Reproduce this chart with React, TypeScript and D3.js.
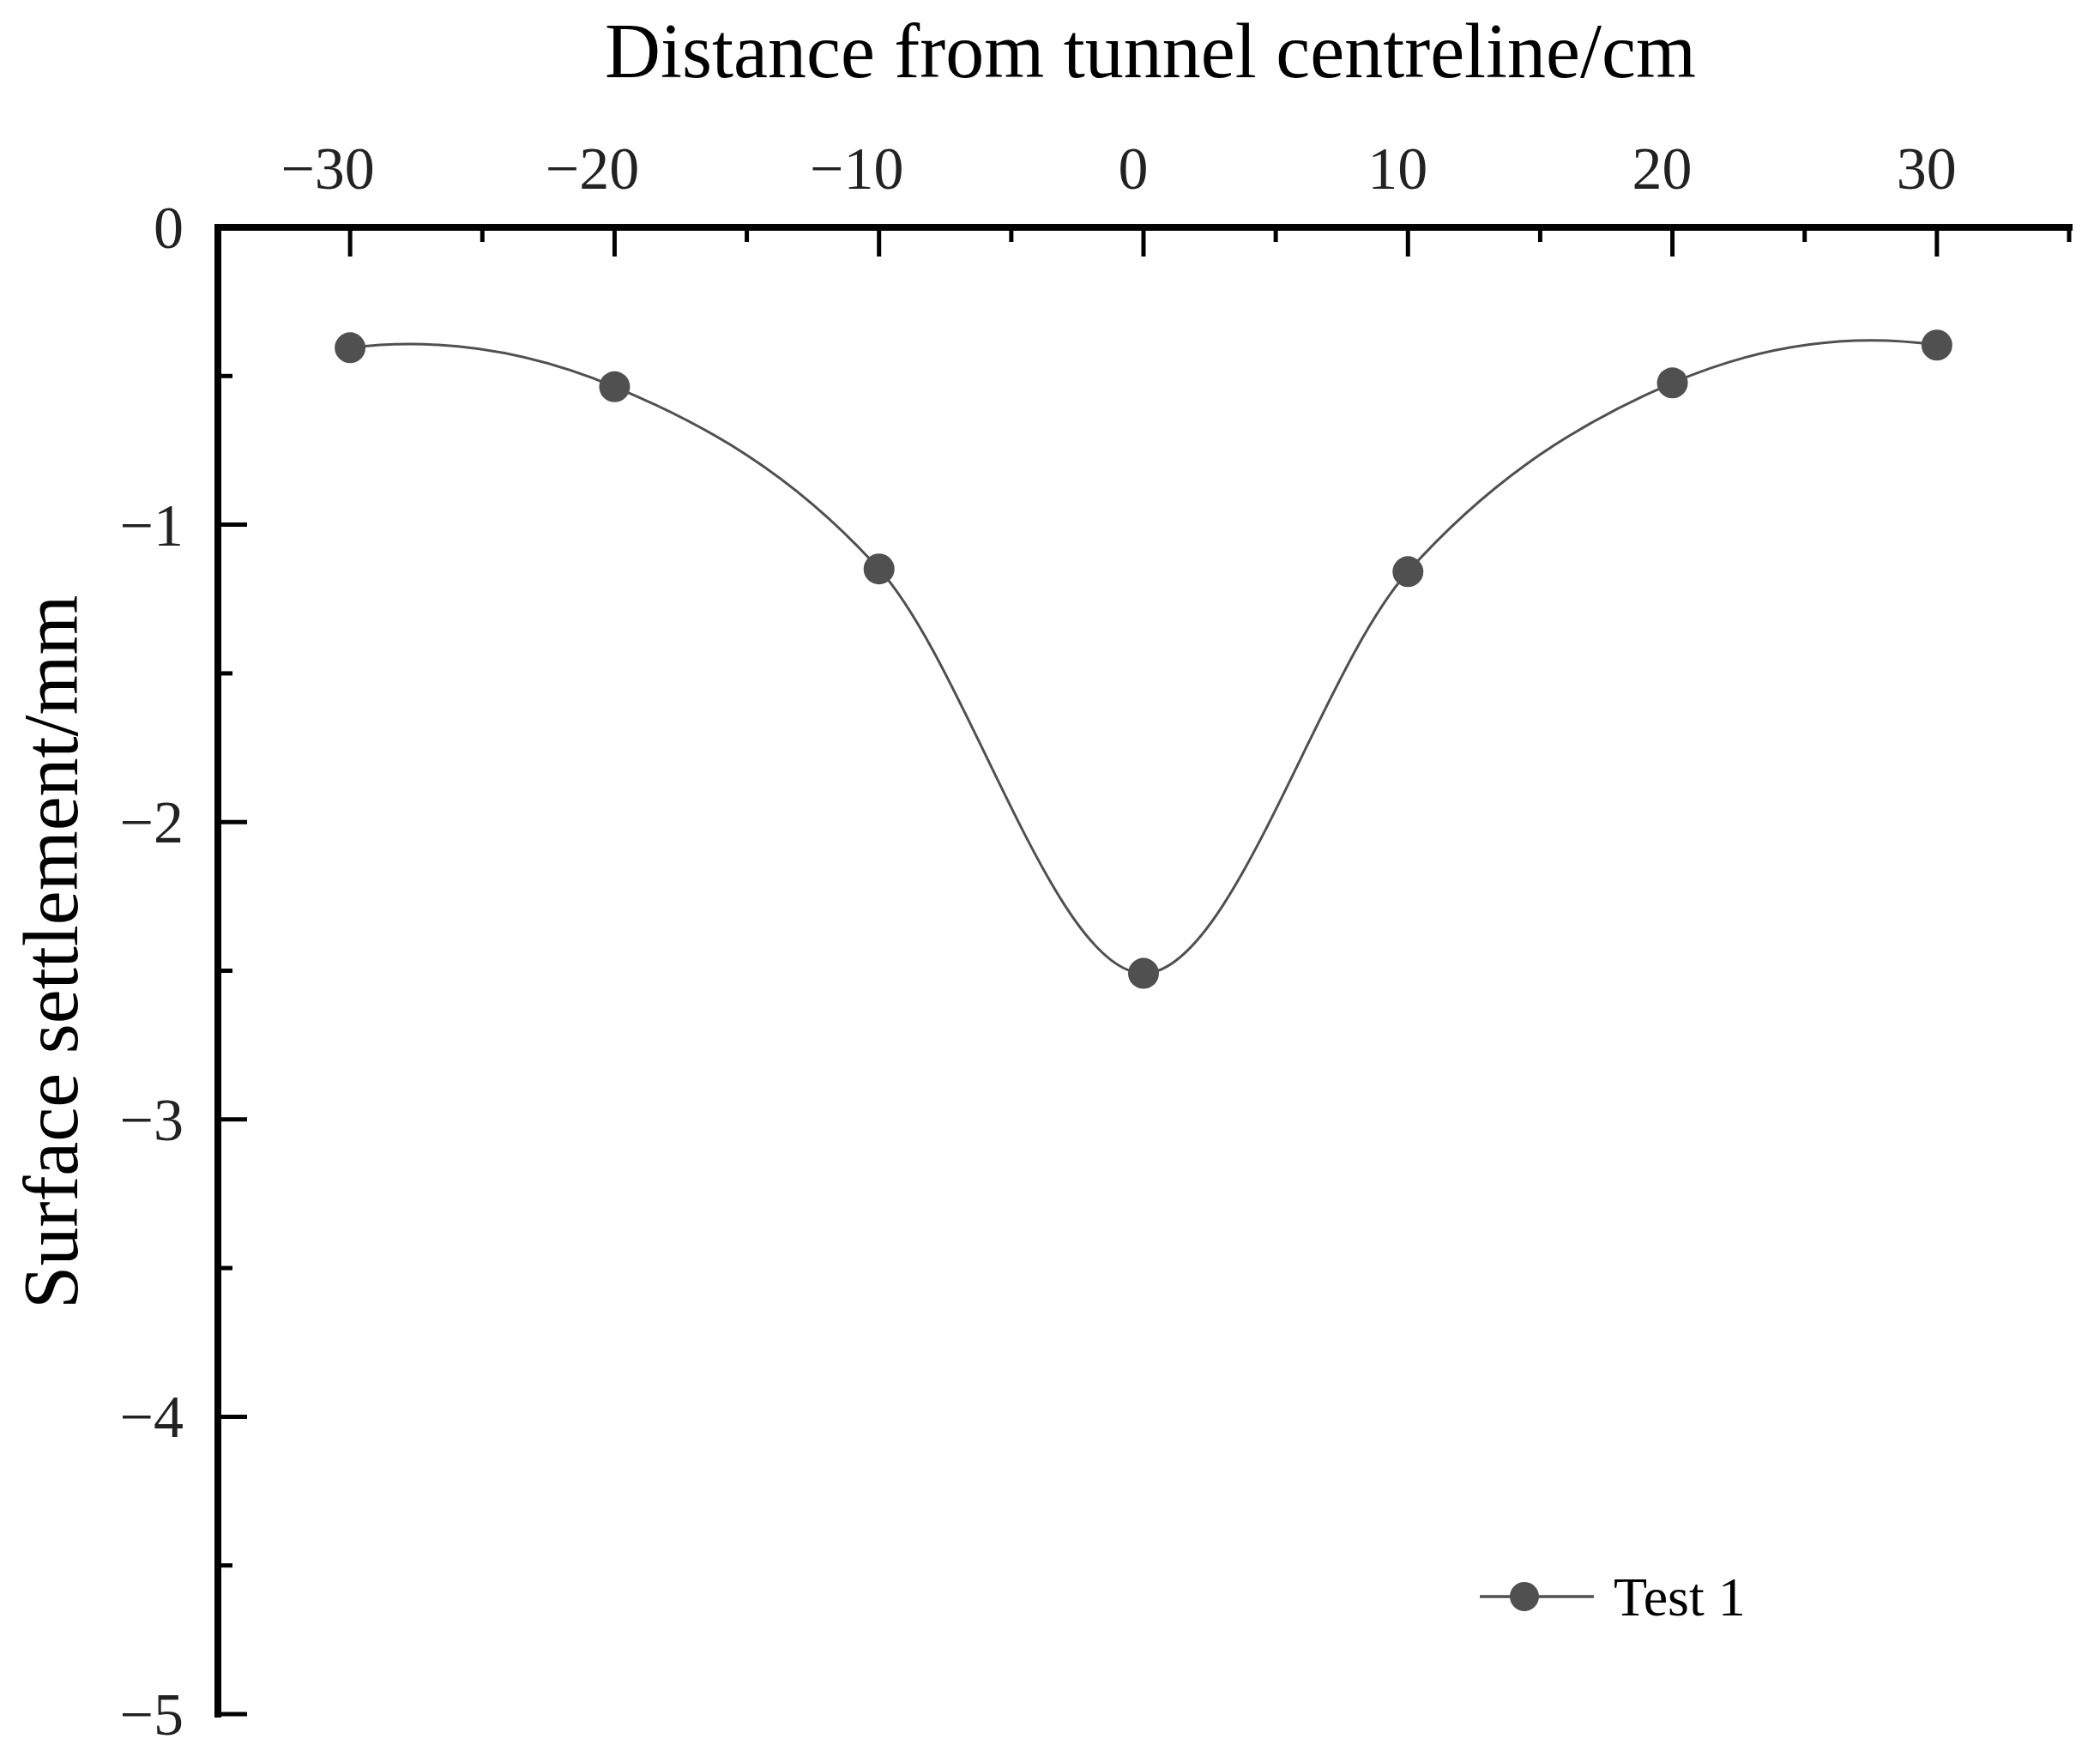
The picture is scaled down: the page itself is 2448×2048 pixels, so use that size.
import React from "react";
import * as d3 from "d3";

const distances = [-30, -20, -10, 0, 10, 20, 30];
const settlement = [-0.405, -0.536, -1.149, -2.509, -1.158, -0.523, -0.396];
const xTicks = [-30, -20, -10, 0, 10, 20, 30];
const xMinorTicks = [-25, -15, -5, 5, 15, 25, 35];
const yTicks = [0, -1, -2, -3, -4, -5];
const yMinorTicks = [-0.5, -1.5, -2.5, -3.5, -4.5];
const seriesName = "Test 1";
const xTitle = "Distance from tunnel centreline/cm";
const yTitle = "Surface settlement/mm";

const W = 2448;
const H = 2048;
const left = 254;
const right = 2412;
const top = 265;
const bottom = 1998;
const font = "'Liberation Serif', 'Times New Roman', serif";
const col = "#505050";

// Catmull-Rom style spline through screen points, quadratic end tangents
function splinePath(p: [number, number][]): string {
  const n = p.length;
  const T: [number, number][] = p.map(() => [0, 0]);
  for (let i = 1; i < n - 1; i++) {
    T[i] = [(p[i + 1][0] - p[i - 1][0]) / 2, (p[i + 1][1] - p[i - 1][1]) / 2];
  }
  T[0] = [2 * (p[1][0] - p[0][0]) - T[1][0], 2 * (p[1][1] - p[0][1]) - T[1][1]];
  T[n - 1] = [
    2 * (p[n - 1][0] - p[n - 2][0]) - T[n - 2][0],
    2 * (p[n - 1][1] - p[n - 2][1]) - T[n - 2][1],
  ];
  const path = d3.path();
  path.moveTo(p[0][0], p[0][1]);
  for (let i = 0; i < n - 1; i++) {
    path.bezierCurveTo(
      p[i][0] + T[i][0] / 3,
      p[i][1] + T[i][1] / 3,
      p[i + 1][0] - T[i + 1][0] / 3,
      p[i + 1][1] - T[i + 1][1] / 3,
      p[i + 1][0],
      p[i + 1][1]
    );
  }
  return path.toString();
}

export default function App() {
  const x = d3.scaleLinear().domain([-35, 35]).range([left, right]);
  const y = d3.scaleLinear().domain([0, -5]).range([top, bottom]);
  const pts = distances.map((d, i) => [x(d), y(settlement[i])] as [number, number]);
  const line = splinePath(pts);
  const fmt = (v: number) => (v < 0 ? "\u2212" + Math.abs(v) : String(v));
  return (
    <svg width={W} height={H} style={{ position: "absolute", left: 0, top: 0, background: "#fff" }}>
      <rect x={0} y={0} width={W} height={H} fill="#fff" />
      {xTicks.map((t) => (
        <g key={"xt" + t}>
          <line x1={x(t)} x2={x(t)} y1={top} y2={top + 34} stroke="#000" strokeWidth={5} />
          <text x={x(t) - (t < 0 ? 26 : 12)} y={220} fontFamily={font} fontSize={70} textAnchor="middle" fill="#222">{fmt(t)}</text>
        </g>
      ))}
      {xMinorTicks.map((t) => (
        <line key={"xm" + t} x1={x(t)} x2={x(t)} y1={top} y2={top + 17} stroke="#000" strokeWidth={5} />
      ))}
      {yTicks.map((t) => (
        <g key={"yt" + t}>
          <line x1={left} x2={left + 34} y1={y(t)} y2={y(t)} stroke="#000" strokeWidth={5} />
          <text x={214} y={y(t) + 24} fontFamily={font} fontSize={70} textAnchor="end" fill="#222">{fmt(t)}</text>
        </g>
      ))}
      {yMinorTicks.map((t) => (
        <line key={"ym" + t} x1={left} x2={left + 17} y1={y(t)} y2={y(t)} stroke="#000" strokeWidth={5} />
      ))}
      {/* axes */}
      <line x1={left} x2={right} y1={top} y2={top} stroke="#000" strokeWidth={8} strokeLinecap="square" />
      <line x1={left} x2={left} y1={top} y2={bottom} stroke="#000" strokeWidth={8} strokeLinecap="square" />
      {/* titles */}
      <text x={1341} y={90} fontFamily={font} fontSize={90} textAnchor="middle" fill="#000">{xTitle}</text>
      <text transform={`translate(90, ${(top + bottom) / 2 - 22}) rotate(-90)`} fontFamily={font} fontSize={90} textAnchor="middle" fill="#000">{yTitle}</text>
      {/* series */}
      <path d={line} fill="none" stroke={col} strokeWidth={3} />
      {pts.map((p, i) => (
        <circle key={"p" + i} cx={p[0]} cy={p[1]} r={18} fill={col} />
      ))}
      {/* legend */}
      <line x1={1725} x2={1858} y1={1861} y2={1861} stroke={col} strokeWidth={3.5} />
      <circle cx={1777} cy={1861} r={17} fill={col} />
      <text x={1881} y={1883} fontFamily={font} fontSize={64} fill="#000">{seriesName}</text>
    </svg>
  );
}
